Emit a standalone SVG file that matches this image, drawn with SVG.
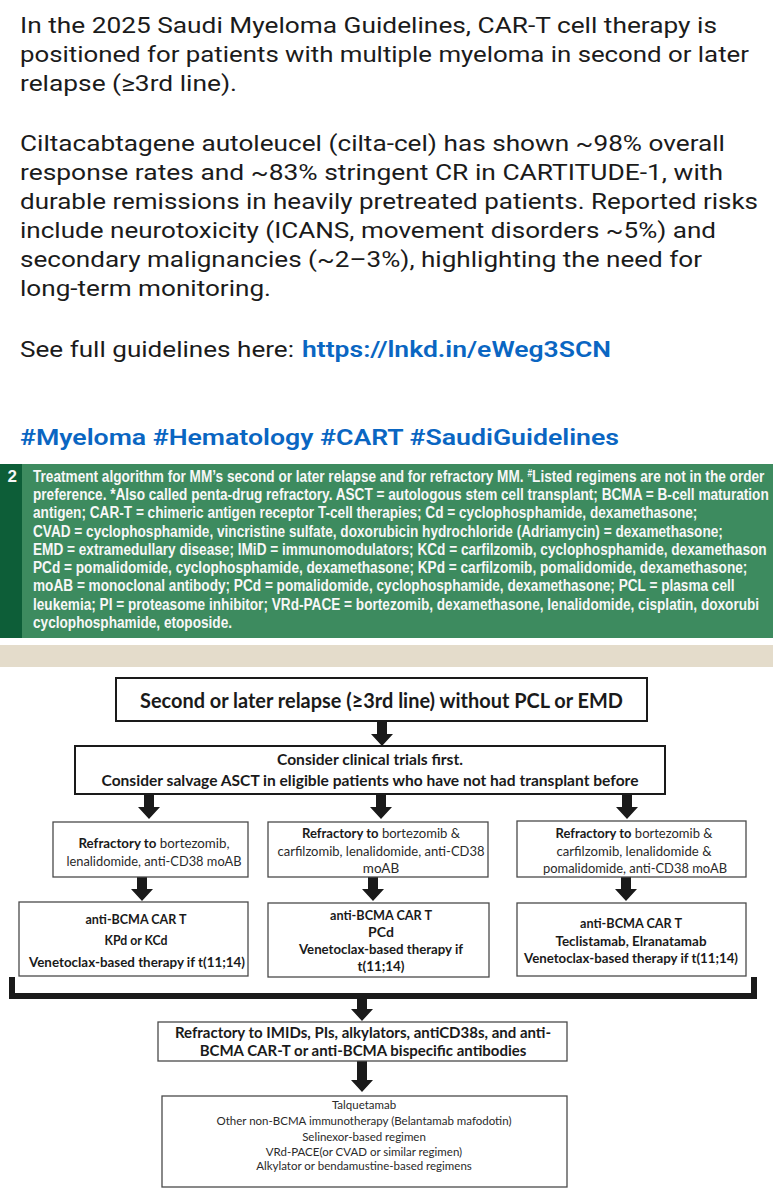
<svg xmlns="http://www.w3.org/2000/svg" width="773" height="1200" viewBox="0 0 773 1200">
<style>
.post{font-family:Roboto,"Liberation Sans",sans-serif;font-size:22.5px;fill:#1b1b1b}
.link{fill:#0a66c2;font-weight:600}
.cap{font-family:"Liberation Sans",Arial,sans-serif;font-size:17px;font-weight:bold;fill:#f7f7f7}
.d{font-family:Lato,"Liberation Sans",sans-serif;fill:#1a1a1a;text-anchor:middle}
.b1{font-size:20px;font-weight:bold}
.b2{font-size:15.5px;font-weight:bold}
.r2{font-size:13.5px;fill:#2a2a2a}
.r3{font-size:14px;font-weight:bold}
.g{font-size:15px;font-weight:bold}
.h{font-size:11.5px;fill:#2a2a2a}
.bx{fill:#fff;stroke:#1a1a1a;stroke-width:2}
.bt{fill:#fff;stroke:#4a4a4a;stroke-width:1.3}
.arr{fill:#1a1a1a}
</style>
<rect width="773" height="1200" fill="#fff"/>
<g id="post">
<text class="post" x="20" y="33" textLength="697" lengthAdjust="spacingAndGlyphs">In the 2025 Saudi Myeloma Guidelines, CAR-T cell therapy is</text>
<text class="post" x="20" y="62" textLength="729" lengthAdjust="spacingAndGlyphs">positioned for patients with multiple myeloma in second or later</text>
<text class="post" x="20" y="91" textLength="217" lengthAdjust="spacingAndGlyphs">relapse (≥3rd line).</text>
<text class="post" x="20" y="151" textLength="705" lengthAdjust="spacingAndGlyphs">Ciltacabtagene autoleucel (cilta-cel) has shown ~98% overall</text>
<text class="post" x="20" y="180" textLength="703" lengthAdjust="spacingAndGlyphs">response rates and ~83% stringent CR in CARTITUDE-1, with</text>
<text class="post" x="20" y="209" textLength="738" lengthAdjust="spacingAndGlyphs">durable remissions in heavily pretreated patients. Reported risks</text>
<text class="post" x="20" y="238" textLength="696" lengthAdjust="spacingAndGlyphs">include neurotoxicity (ICANS, movement disorders ~5%) and</text>
<text class="post" x="20" y="267" textLength="682" lengthAdjust="spacingAndGlyphs">secondary malignancies (~2–3%), highlighting the need for</text>
<text class="post" x="20" y="296" textLength="251" lengthAdjust="spacingAndGlyphs">long-term monitoring.</text>
<text class="post" x="20" y="357" textLength="274" lengthAdjust="spacingAndGlyphs">See full guidelines here:</text>
<text class="post link" x="302" y="357" textLength="309" lengthAdjust="spacingAndGlyphs">https://lnkd.in/eWeg3SCN</text>
<text class="post link" x="20" y="445" textLength="599" lengthAdjust="spacingAndGlyphs">#Myeloma #Hematology #CART #SaudiGuidelines</text>
</g>
<g id="caption">
<rect x="0" y="464" width="773" height="174" fill="#3d8b5f"/>
<rect x="0" y="464" width="22" height="174" fill="#0d5e38"/>
<text class="cap" x="17" y="482" text-anchor="end">2</text>
<g transform="translate(33,0) scale(0.802,1)">
<text class="cap" x="0" y="482">Treatment algorithm for MM’s second or later relapse and for refractory MM. <tspan font-size="10.5" dy="-5">#</tspan><tspan dy="5">Listed regimens are not in the order</tspan></text>
<text class="cap" x="0" y="500.3">preference. *Also called penta-drug refractory. ASCT = autologous stem cell transplant; BCMA = B-cell maturation</text>
<text class="cap" x="0" y="518.5">antigen; CAR-T = chimeric antigen receptor T-cell therapies; Cd = cyclophosphamide, dexamethasone;</text>
<text class="cap" x="0" y="536.8">CVAD = cyclophosphamide, vincristine sulfate, doxorubicin hydrochloride (Adriamycin) = dexamethasone;</text>
<text class="cap" x="0" y="555">EMD = extramedullary disease; IMiD = immunomodulators; KCd = carfilzomib, cyclophosphamide, dexamethason</text>
<text class="cap" x="0" y="573.3">PCd = pomalidomide, cyclophosphamide, dexamethasone; KPd = carfilzomib, pomalidomide, dexamethasone;</text>
<text class="cap" x="0" y="591.5">moAB = monoclonal antibody; PCd = pomalidomide, cyclophosphamide, dexamethasone; PCL = plasma cell</text>
<text class="cap" x="0" y="609.8">leukemia; PI = proteasome inhibitor; VRd-PACE = bortezomib, dexamethasone, lenalidomide, cisplatin, doxorubi</text>
<text class="cap" x="0" y="628">cyclophosphamide, etoposide.</text>
</g>
</g>
<rect x="0" y="645" width="773" height="22" fill="#e4dccb"/>
<g id="connectors">
<polygon class="arr" points="377,721 387,721 387,734 393,734 382,746 371,734 377,734"/>
<polygon class="arr" points="144,794 154,794 154,807 160,807 149,819 138,807 144,807"/>
<polygon class="arr" points="376,794 386,794 386,807 392,807 381,819 370,807 376,807"/>
<polygon class="arr" points="622,794 632,794 632,807 638,807 627,819 616,807 622,807"/>
<polygon class="arr" points="137,877 147,877 147,889 153,889 142,901 131,889 137,889"/>
<polygon class="arr" points="368,877 378,877 378,889 384,889 373,901 362,889 368,889"/>
<polygon class="arr" points="621,877 631,877 631,889 637,889 626,901 615,889 621,889"/>
<path d="M12,977 V996 H754 V977" fill="none" stroke="#1a1a1a" stroke-width="6"/>
<polygon class="arr" points="357,998 367,998 367,1009 373,1009 362,1021 351,1009 357,1009"/>
<polygon class="arr" points="357,1061 367,1061 367,1080 373,1080 362,1092 351,1080 357,1080"/>
</g>
<g id="n1">
<rect class="bx" x="116" y="678" width="531" height="43"/>
<text class="d b1" x="381.5" y="708" textLength="483" lengthAdjust="spacingAndGlyphs">Second or later relapse (≥3rd line) without PCL or EMD</text>
</g>
<g id="n2">
<rect class="bx" x="75" y="746" width="590" height="48"/>
<text class="d b2" x="370" y="765" textLength="186" lengthAdjust="spacingAndGlyphs">Consider clinical trials first.</text>
<text class="d b2" x="370" y="786" textLength="537" lengthAdjust="spacingAndGlyphs">Consider salvage ASCT in eligible patients who have not had transplant before</text>
</g>
<g id="nA">
<rect class="bt" x="53" y="822" width="195" height="55"/>
<text class="d r2" x="154" y="848" textLength="151" lengthAdjust="spacingAndGlyphs"><tspan font-weight="bold" fill="#1a1a1a">Refractory to</tspan> bortezomib,</text>
<text class="d r2" x="154" y="866" textLength="175" lengthAdjust="spacingAndGlyphs">lenalidomide, anti-CD38 moAB</text>
</g>
<g id="nB">
<rect class="bt" x="268" y="822" width="220" height="55"/>
<text class="d r2" x="381" y="838" textLength="158" lengthAdjust="spacingAndGlyphs"><tspan font-weight="bold" fill="#1a1a1a">Refractory to</tspan> bortezomib &amp;</text>
<text class="d r2" x="381" y="856" textLength="207" lengthAdjust="spacingAndGlyphs">carfilzomib, lenalidomide, anti-CD38</text>
<text class="d r2" x="381" y="873">moAB</text>
</g>
<g id="nC">
<rect class="bt" x="517" y="821" width="229" height="56"/>
<text class="d r2" x="634" y="838" textLength="157" lengthAdjust="spacingAndGlyphs"><tspan font-weight="bold" fill="#1a1a1a">Refractory to</tspan> bortezomib &amp;</text>
<text class="d r2" x="634" y="856" textLength="155" lengthAdjust="spacingAndGlyphs">carfilzomib, lenalidomide &amp;</text>
<text class="d r2" x="635" y="873" textLength="184" lengthAdjust="spacingAndGlyphs">pomalidomide, anti-CD38 moAB</text>
</g>
<g id="nD">
<rect class="bt" x="19" y="902" width="229" height="74"/>
<text class="d r3" x="136" y="924" textLength="101" lengthAdjust="spacingAndGlyphs">anti-BCMA CAR T</text>
<text class="d r3" x="136" y="945" textLength="63" lengthAdjust="spacingAndGlyphs">KPd or KCd</text>
<text class="d r3" x="137" y="967" textLength="216" lengthAdjust="spacingAndGlyphs">Venetoclax-based therapy if t(11;14)</text>
</g>
<g id="nE">
<rect class="bt" x="268" y="903" width="221" height="74"/>
<text class="d r3" x="381" y="920" textLength="102" lengthAdjust="spacingAndGlyphs">anti-BCMA CAR T</text>
<text class="d r3" x="381" y="937">PCd</text>
<text class="d r3" x="381" y="954" textLength="164" lengthAdjust="spacingAndGlyphs">Venetoclax-based therapy if</text>
<text class="d r3" x="381" y="971" textLength="47" lengthAdjust="spacingAndGlyphs">t(11;14)</text>
</g>
<g id="nF">
<rect class="bt" x="517" y="903" width="229" height="73"/>
<text class="d r3" x="631" y="928" textLength="102" lengthAdjust="spacingAndGlyphs">anti-BCMA CAR T</text>
<text class="d r3" x="631" y="946" textLength="151" lengthAdjust="spacingAndGlyphs">Teclistamab, Elranatamab</text>
<text class="d r3" x="631" y="963" textLength="214" lengthAdjust="spacingAndGlyphs">Venetoclax-based therapy if t(11;14)</text>
</g>
<g id="nG">
<rect class="bt" x="158" y="1022" width="409" height="39"/>
<text class="d g" x="363" y="1038">Refractory to IMIDs, PIs, alkylators, antiCD38s, and anti-</text>
<text class="d g" x="363" y="1056">BCMA CAR-T or anti-BCMA bispecific antibodies</text>
</g>
<g id="nH">
<rect class="bt" x="162" y="1096" width="405" height="91" stroke-width="1.1"/>
<text class="d h" x="364" y="1109">Talquetamab</text>
<text class="d h" x="364" y="1125">Other non-BCMA immunotherapy (Belantamab mafodotin)</text>
<text class="d h" x="364" y="1141">Selinexor-based regimen</text>
<text class="d h" x="364" y="1156">VRd-PACE(or CVAD or similar regimen)</text>
<text class="d h" x="364" y="1170">Alkylator or bendamustine-based regimens</text>
</g>
</svg>
